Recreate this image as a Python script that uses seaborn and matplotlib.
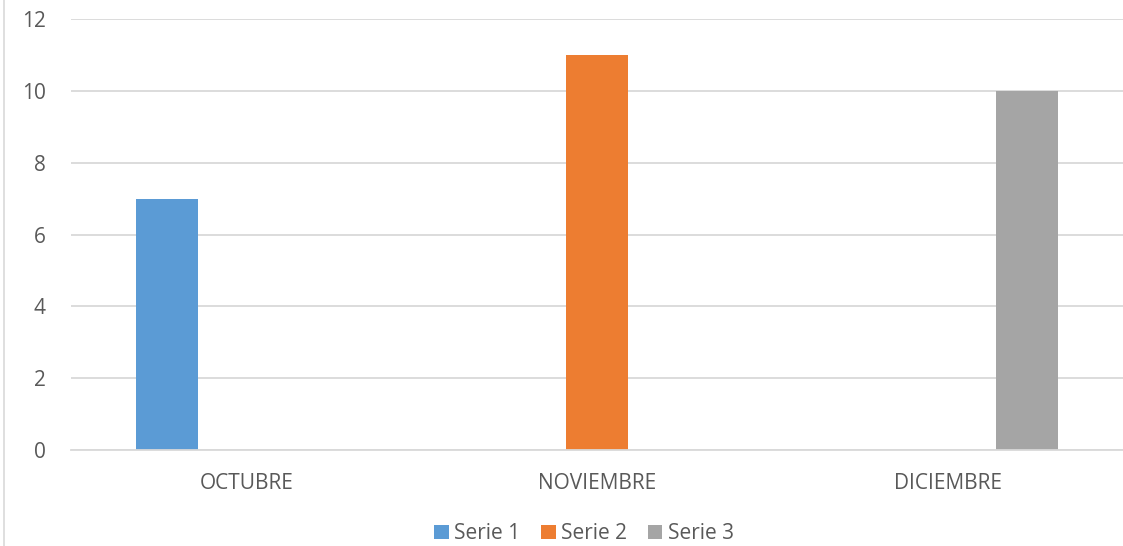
import pandas as pd
import seaborn as sns
import matplotlib.pyplot as plt
from matplotlib.lines import Line2D

# Chart data
months = ["OCTUBRE", "NOVIEMBRE", "DICIEMBRE"]
series_names = ["Serie 1", "Serie 2", "Serie 3"]
serie1 = [7, 0, 0]
serie2 = [0, 11, 0]
serie3 = [0, 0, 10]
y_ticks = [0, 2, 4, 6, 8, 10, 12]

df = pd.DataFrame({"Mes": months, "Serie 1": serie1,
                   "Serie 2": serie2, "Serie 3": serie3})
long = df.melt(id_vars="Mes", var_name="Serie", value_name="Valor")

sns.set_theme(style="white")
plt.rcParams["font.family"] = ["Open Sans", "DejaVu Sans"]

palette = ["#5B9BD5", "#ED7D31", "#A5A5A5"]
text_color = "#595959"
grid_color = "#D9D9D9"

fig = plt.figure(figsize=(11.23, 5.46), dpi=100)
ax = fig.add_axes([0.0632, 0.176, 0.9368, 0.789])

sns.barplot(data=long, x="Mes", y="Valor", hue="Serie", order=months,
            hue_order=series_names, palette=palette, width=0.68, gap=0.22,
            linewidth=0, saturation=1, ax=ax, legend=True)

ax.set_xlim(-0.5, 2.5)
ax.set_ylim(0, 12)
ax.set_yticks(y_ticks)
ax.yaxis.grid(True, color=grid_color, linewidth=1.3)
ax.set_axisbelow(True)
for side in ["left", "right", "top"]:
    ax.spines[side].set_visible(False)
ax.spines["bottom"].set_color(grid_color)
ax.spines["bottom"].set_linewidth(1.3)
ax.tick_params(axis="y", length=0, pad=18, labelsize=15, labelcolor=text_color)
ax.tick_params(axis="x", length=0, pad=16.5, labelsize=15, labelcolor=text_color)
ax.set_xlabel("")
ax.set_ylabel("")

# legend at the bottom
handles, labels = ax.get_legend_handles_labels()
ax.legend().remove()
fig.legend(handles, labels, loc="center", bbox_to_anchor=(0.52, 0.022),
           ncol=3, frameon=False, fontsize=15, labelcolor=text_color,
           handlelength=0.7, handleheight=0.7, handletextpad=0.25,
           columnspacing=1.0)

# thin chart border on the left
fig.add_artist(Line2D([0.004, 0.004], [0, 1], transform=fig.transFigure,
                      color=grid_color, linewidth=1.2))

fig.savefig("out.png", dpi=100)
